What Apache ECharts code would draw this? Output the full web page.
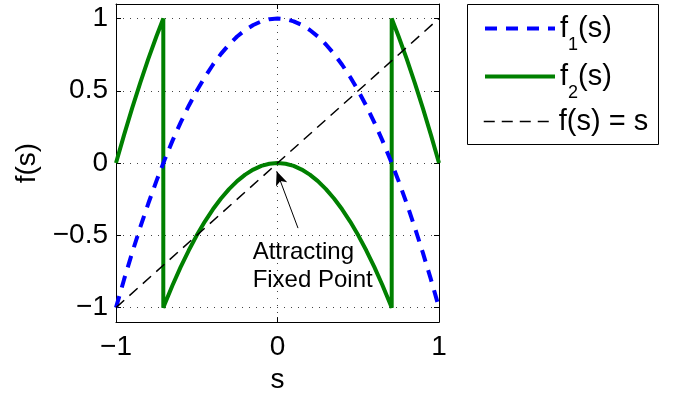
<!DOCTYPE html>
<html>
<head>
<meta charset="utf-8">
<script src="https://cdn.jsdelivr.net/npm/echarts@6/dist/echarts.min.js"></script>
<style>
  html, body { margin: 0; padding: 0; background: #fff; }
  #chart { width: 680px; height: 399px; }
</style>
</head>
<body>
<div id="chart"></div>
<script>
// Sample points of the two maps on s in [-1, 1]
const sValues = [-1, -0.95, -0.9, -0.85, -0.8, -0.75, -0.7, -0.65, -0.6, -0.55, -0.5,
  -0.45, -0.4, -0.35, -0.3, -0.25, -0.2, -0.15, -0.1, -0.05, 0,
  0.05, 0.1, 0.15, 0.2, 0.25, 0.3, 0.35, 0.4, 0.45, 0.5,
  0.55, 0.6, 0.65, 0.7, 0.75, 0.8, 0.85, 0.9, 0.95, 1];
const f1Values = [-1, -0.805, -0.62, -0.445, -0.28, -0.125, 0.02, 0.155, 0.28, 0.395, 0.5,
  0.595, 0.68, 0.755, 0.82, 0.875, 0.92, 0.955, 0.98, 0.995, 1,
  0.995, 0.98, 0.955, 0.92, 0.875, 0.82, 0.755, 0.68, 0.595, 0.5,
  0.395, 0.28, 0.155, 0.02, -0.125, -0.28, -0.445, -0.62, -0.805, -1];

// f2 wraps around at |s| = 0.7071, so the jump points appear twice
const f2S = [-1, -0.95, -0.9, -0.85, -0.8, -0.75, -0.7071, -0.7071, -0.7, -0.65, -0.6, -0.55, -0.5,
  -0.45, -0.4, -0.35, -0.3, -0.25, -0.2, -0.15, -0.1, -0.05, 0,
  0.05, 0.1, 0.15, 0.2, 0.25, 0.3, 0.35, 0.4, 0.45, 0.5,
  0.55, 0.6, 0.65, 0.7, 0.7071, 0.7071, 0.75, 0.8, 0.85, 0.9, 0.95, 1];
const f2Values = [0, 0.195, 0.38, 0.555, 0.72, 0.875, 1, -1, -0.98, -0.845, -0.72, -0.605, -0.5,
  -0.405, -0.32, -0.245, -0.18, -0.125, -0.08, -0.045, -0.02, -0.005, 0,
  -0.005, -0.02, -0.045, -0.08, -0.125, -0.18, -0.245, -0.32, -0.405, -0.5,
  -0.605, -0.72, -0.845, -0.98, -1, 1, 0.875, 0.72, 0.555, 0.38, 0.195, 0];

const identityS = [-1, 1];
const identityValues = [-1, 1];

const yTickValues = [-1, -0.5, 0, 0.5, 1];
const seriesNames = ['f1(s)', 'f2(s)', 'f(s) = s'];
const annotationText = 'Attracting\nFixed Point';
const arrowFrom = [0.127, -0.45];
const arrowTo = [-0.005, -0.057];
const annotationAt = [-0.154, -0.715];

const FONT = "'Liberation Sans', Arial, Helvetica, sans-serif";
const pairs = (xs, ys) => xs.map((x, i) => [x, ys[i]]);
const minus = v => String(v).replace('-', '\u2212');

const gridLine = { show: true, lineStyle: { color: '#444', width: 1, type: [1, 6] } };

const chart = echarts.init(document.getElementById('chart'), null, { renderer: 'canvas' });

function legendEntry(name, top) {
  return {
    data: [name],
    left: 483,
    top: top,
    orient: 'vertical',
    padding: 0,
    itemWidth: 70,
    itemHeight: 14,
    itemGap: 0,
    selectedMode: false,
    itemStyle: { opacity: 0 },
    lineStyle: { width: 'inherit' },
    textStyle: {
      fontFamily: FONT, fontSize: 29, color: '#000',
      rich: {
        sub: { fontFamily: FONT, fontSize: 18, color: '#000', lineHeight: 18, padding: [22, 0, 0, 0], verticalAlign: 'top' }
      }
    },
    formatter: n => n === 'f1(s)' ? 'f{sub|1}(s)' : (n === 'f2(s)' ? 'f{sub|2}(s)' : n)
  };
}

chart.setOption({
  animation: false,
  backgroundColor: '#fff',
  textStyle: { fontFamily: FONT },
  grid: { left: 116, right: 241, top: 4, bottom: 76, show: false },
  legend: [
    legendEntry(seriesNames[0], 14),
    legendEntry(seriesNames[1], 62),
    legendEntry(seriesNames[2], 107)
  ],
  graphic: [{
    type: 'rect',
    shape: { x: 467.5, y: 4.5, width: 191, height: 140 },
    style: { fill: 'none', stroke: '#000', lineWidth: 1 },
    silent: true
  }],
  xAxis: [{
    type: 'value', min: -1, max: 1, interval: 1,
    position: 'bottom',
    name: 's', nameLocation: 'middle', nameGap: 35,
    nameTextStyle: { fontFamily: FONT, fontSize: 28, color: '#000' },
    axisLine: { show: true, onZero: false, lineStyle: { color: '#000', width: 1 } },
    axisTick: { show: true, inside: true, length: 5, lineStyle: { color: '#000' } },
    axisLabel: { fontFamily: FONT, fontSize: 28, color: '#000', margin: 11, formatter: minus },
    splitLine: gridLine
  }, {
    type: 'value', min: -1, max: 1, interval: 1,
    position: 'top',
    axisLine: { show: true, onZero: false, lineStyle: { color: '#000', width: 1 } },
    axisTick: { show: true, inside: true, length: 5, lineStyle: { color: '#000' } },
    axisLabel: { show: false },
    splitLine: { show: false }
  }],
  yAxis: [{
    type: 'value', min: -1.1, max: 1.1,
    position: 'left',
    name: 'f(s)', nameLocation: 'middle', nameGap: 75,
    nameTextStyle: { fontFamily: FONT, fontSize: 28, color: '#000' },
    axisLine: { show: true, onZero: false, lineStyle: { color: '#000', width: 1 } },
    axisTick: { show: true, inside: true, length: 5, lineStyle: { color: '#000' }, customValues: yTickValues },
    axisLabel: { fontFamily: FONT, fontSize: 28, color: '#000', margin: 8, customValues: yTickValues, formatter: minus },
    splitLine: gridLine
  }, {
    type: 'value', min: -1.1, max: 1.1,
    position: 'right',
    axisLine: { show: true, onZero: false, lineStyle: { color: '#000', width: 1 } },
    axisTick: { show: true, inside: true, length: 5, lineStyle: { color: '#000' }, customValues: yTickValues },
    axisLabel: { show: false, customValues: yTickValues },
    splitLine: { show: false }
  }],
  series: [{
    name: seriesNames[0],
    type: 'line',
    data: pairs(sValues, f1Values),
    showSymbol: false, symbol: 'none',
    lineStyle: { color: '#0000ff', width: 4, type: [12, 9] },
    itemStyle: { color: '#0000ff' },
    silent: true, z: 3
  }, {
    name: seriesNames[1],
    type: 'line',
    data: pairs(f2S, f2Values),
    showSymbol: false, symbol: 'none',
    lineStyle: { color: '#008000', width: 4, type: 'solid', join: 'bevel' },
    itemStyle: { color: '#008000' },
    silent: true, z: 2
  }, {
    name: seriesNames[2],
    type: 'line',
    data: pairs(identityS, identityValues),
    showSymbol: false, symbol: 'none',
    lineStyle: { color: '#000', width: 1.5, type: [11, 7] },
    itemStyle: { color: '#000' },
    silent: true, z: 4,
    markLine: {
      silent: true,
      symbol: ['none', 'arrow'],
      symbolSize: [9, 14],
      label: { show: false },
      lineStyle: { color: '#000', width: 1, type: 'solid' },
      emphasis: { disabled: true },
      data: [[{ coord: arrowFrom }, { coord: arrowTo }]]
    },
    markPoint: {
      silent: true,
      symbol: 'circle',
      symbolSize: 0,
      label: {
        show: true, position: 'inside', align: 'left', verticalAlign: 'middle',
        fontFamily: FONT, fontSize: 24, lineHeight: 28, color: '#000',
        formatter: annotationText
      },
      data: [{ coord: annotationAt }]
    }
  }]
});
</script>
</body>
</html>
